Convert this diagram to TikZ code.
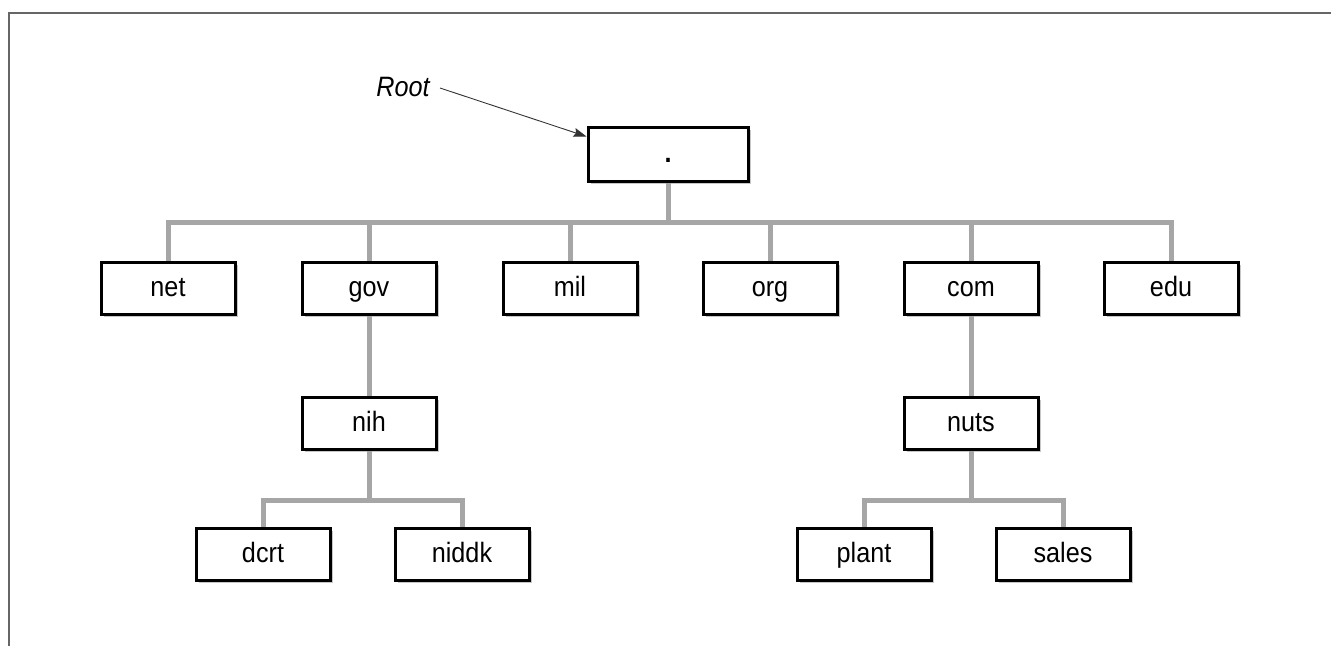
\documentclass[tikz,border=0pt]{standalone}
\usepackage{fontspec}
\setmainfont{Liberation Sans}[FakeStretch=0.9]
\usetikzlibrary{shadows,arrows.meta}
\begin{document}
\begin{tikzpicture}[x=1pt,y=-1pt,
  box/.style={draw=black,line width=3pt,fill=white,minimum width=134pt,minimum height=52pt,inner sep=0pt,
    font=\fontsize{28}{30}\selectfont,text height=22pt,text depth=6pt,
    drop shadow={shadow xshift=3pt,shadow yshift=-3pt,opacity=0.22,fill=black}},
  conn/.style={draw=black!35,line width=5pt},
  frame/.style={draw=black!60,line width=2.5pt}
]
\useasboundingbox (0,0) rectangle (1331,646);
\draw[frame] (9,646) -- (9,13) -- (1331,13);

\node[box,minimum width=160pt,minimum height=54pt] (root) at (668,154) {\textbf{.}};
\node[box] (net) at (168,288) {net};
\node[box] (gov) at (369,288) {gov};
\node[box] (mil) at (570,288) {mil};
\node[box] (org) at (770,288) {org};
\node[box] (com) at (971,288) {com};
\node[box] (edu) at (1171,288) {edu};
\node[box] (nih) at (369,423) {nih};
\node[box] (nuts) at (971,423) {nuts};
\node[box] (dcrt) at (263,554) {dcrt};
\node[box] (niddk) at (462,554) {niddk};
\node[box] (plant) at (864,554) {plant};
\node[box] (sales) at (1063,554) {sales};

\node[font=\fontsize{28}{30}\selectfont\itshape] (rootlbl) at (403,87) {Root};

\coordinate (b1) at (668,222);
\coordinate (b2) at (369,500);
\coordinate (b3) at (971,500);
\coordinate (ra) at (440,88);
\coordinate (rb) at ([yshift=-11pt]root.north west);

\draw[conn] (root.south) -- (b1);
\draw[conn] (net.north) -- (net.north |- b1) -- (edu.north |- b1) -- (edu.north);
\foreach \n in {gov,mil,org,com} \draw[conn] (\n.north) -- (\n.north |- b1);
\draw[conn] (gov.south) -- (nih.north);
\draw[conn] (com.south) -- (nuts.north);
\draw[conn] (nih.south) -- (b2);
\draw[conn] (dcrt.north) -- (dcrt.north |- b2) -- (niddk.north |- b2) -- (niddk.north);
\draw[conn] (nuts.south) -- (b3);
\draw[conn] (plant.north) -- (plant.north |- b3) -- (sales.north |- b3) -- (sales.north);

\draw[line width=0.9pt,black!80,-{Stealth[length=13pt,width=9pt,inset=2pt]}] (ra) -- (rb);
\end{tikzpicture}
\end{document}
